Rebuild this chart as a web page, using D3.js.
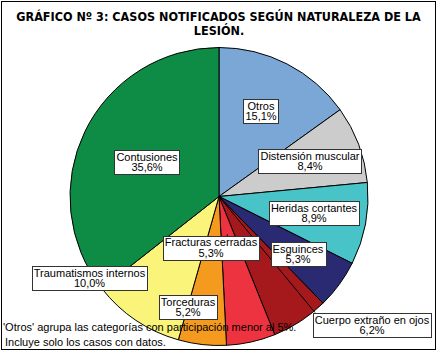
<!DOCTYPE html>
<html><head><meta charset="utf-8">
<script src="https://cdn.jsdelivr.net/npm/d3@7/dist/d3.min.js"></script>
<style>body{margin:0;background:#fff}svg{display:block}</style>
</head><body>
<svg id="c" width="437" height="351"></svg>
<script>
const categories = ["Otros","Distensión muscular","Heridas cortantes","Esguinces","Cuerpo extraño en ojos","Fracturas cerradas","Torceduras","Traumatismos internos","Contusiones"];
const values = [15.1, 8.4, 8.9, 5.3, 6.2, 5.3, 5.2, 10.0, 35.6];
const colors = ["#7BA7D6","#CCCCCC","#48C4C8","#2A2A72","#A5191D","#EE3340","#F39A1F","#FAF47A","#0E8C46"];
const titleLines = ["GRÁFICO Nº 3: CASOS NOTIFICADOS SEGÚN NATURALEZA DE LA","LESIÓN."];
const notes = ["'Otros' agrupa las categorías con participación menor al 5%.","Incluye solo los casos con datos."];

// layout (label box centres)
const labelPos = {
  "Otros":[261,111], "Distensión muscular":[310,161], "Heridas cortantes":[314,213],
  "Esguinces":[298,254], "Cuerpo extraño en ojos":[372,325], "Fracturas cerradas":[211,247.5],
  "Torceduras":[188,307], "Traumatismos internos":[89.5,278], "Contusiones":[147,162]
};

const svg = d3.select("#c");
svg.append("rect").attr("x",1.5).attr("y",1.5).attr("width",434).attr("height",348)
  .attr("fill","#fff").attr("stroke","#000").attr("stroke-width",1);

// title: fit first line to ~413px
const t = svg.append("g").attr("font-family","DejaVu Sans Condensed, DejaVu Sans").attr("font-weight","bold")
  .attr("fill","#000");
const l1 = t.append("text").attr("x",218.5).attr("y",21).attr("text-anchor","middle").attr("font-size",12.5).text(titleLines[0]);
let w1 = l1.node().getComputedTextLength();
let fs = Math.min(12.5, 12.5*413/w1);
l1.attr("font-size",fs);
t.append("text").attr("x",219).attr("y",35).attr("text-anchor","middle").attr("font-size",fs).text(titleLines[1]);

const cx = 219, cy = 196.5, R = 149;
const data = categories.map((c,i)=>({cat:c, v:values[i], col:colors[i]}));
const pie = d3.pie().value(d=>d.v).sort(null);
const arc = d3.arc().innerRadius(0).outerRadius(R);
const g = svg.append("g").attr("transform",`translate(${cx},${cy})`);
const arcs = pie(data);
g.selectAll("path").data(arcs).join("path").attr("d",arc)
  .attr("fill",d=>d.data.col).attr("stroke","#000").attr("stroke-width",1);

// leader lines
const lab = svg.append("g");
const cuerpo = labelPos["Cuerpo extraño en ojos"];
lab.append("line").attr("x1",cx).attr("y1",cy).attr("x2",cuerpo[0]-57).attr("y2",cuerpo[1]-12.5)
  .attr("stroke","#000").attr("stroke-width",1);
const fr = labelPos["Fracturas cerradas"];
const frArc = arcs[categories.indexOf("Fracturas cerradas")];
const frPt = d3.arc().innerRadius(0).outerRadius(R*0.52).centroid(frArc);
lab.append("line").attr("x1",fr[0]+12).attr("y1",fr[1]+12.5).attr("x2",cx+frPt[0]).attr("y2",cy+frPt[1])
  .attr("stroke","#000").attr("stroke-width",1);

// label boxes
data.forEach(d=>{
  const [x,y] = labelPos[d.cat];
  const gg = lab.append("g").attr("font-family","Liberation Sans, Arial, sans-serif").attr("font-size",11);
  const t1 = gg.append("text").attr("x",x).attr("y",y-1.5).attr("text-anchor","middle").text(d.cat);
  const t2 = gg.append("text").attr("x",x).attr("y",y+9).attr("text-anchor","middle")
     .text(d3.format(".1f")(d.v).replace(".",",")+"%");
  const w = Math.max(t1.node().getComputedTextLength(), t2.node().getComputedTextLength()) + 4;
  gg.insert("rect","text").attr("x",Math.round(x-w/2)+0.5).attr("y",Math.round(y-12)+0.5)
    .attr("width",Math.round(w)).attr("height",24).attr("fill","#fff").attr("stroke","#333").attr("stroke-width",1);
});

const n = svg.append("g").attr("font-family","Liberation Sans, Arial, sans-serif").attr("font-size",11).attr("fill","#000");
n.append("text").attr("x",3).attr("y",331).text(notes[0]);
n.append("text").attr("x",5).attr("y",346).text(notes[1]);
</script>
</body></html>
